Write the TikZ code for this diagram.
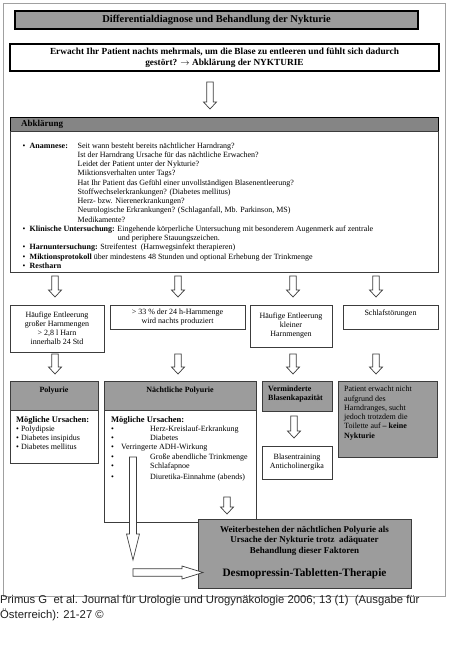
\documentclass[tikz,border=0pt]{standalone}
\usepackage{fontspec}
\setmainfont{Liberation Serif}
\newfontfamily\capfont{Liberation Sans}
\usetikzlibrary{calc}
\definecolor{boxgray}{HTML}{9C9C9C}
\definecolor{headgray}{HTML}{858585}
\definecolor{framegray}{HTML}{A0A0A0}
\definecolor{linegray}{HTML}{3C3C3C}
\newcommand\blockdown[5]{%
  \draw[blk] ($(#1)+(-#3,0)$) -- ($(#2)+(-#3,-#5)$) -- ($(#2)+(-#4,-#5)$) -- (#2)
    -- ($(#2)+(#4,-#5)$) -- ($(#2)+(#3,-#5)$) -- ($(#1)+(#3,0)$) -- cycle;}
\newcommand\blockright[5]{%
  \draw[blk] ($(#1)+(0,-#3)$) -- ($(#2)+(-#5,-#3)$) -- ($(#2)+(-#5,-#4)$) -- (#2)
    -- ($(#2)+(-#5,#4)$) -- ($(#2)+(-#5,#3)$) -- ($(#1)+(0,#3)$) -- cycle;}
\newcommand\bul{\makebox[7pt][l]{\textbullet}}
\begin{document}
\begin{tikzpicture}[x=1pt,y=-1pt,
  bx/.style={draw=linegray,line width=0.8pt,anchor=north west,inner sep=0pt,outer sep=0pt},
  hbx/.style={draw=black,line width=1.6pt,anchor=north west,inner sep=0pt,outer sep=0pt},
  tx/.style={inner sep=0pt,font=\fontsize{8}{9}\selectfont},
  txb/.style={inner sep=0pt,font=\fontsize{8}{9}\selectfont\bfseries},
  ab/.style={inner sep=0pt,anchor=base west,font=\fontsize{8}{9}\selectfont},
  blk/.style={draw=linegray,line width=0.7pt,fill=white,line join=miter}]
\path[use as bounding box] (0,0) rectangle (449,661);
\fill[white] (0,0) rectangle (449,661);
\node[bx,draw=framegray,minimum width=442,minimum height=593] (frame) at (3,3) {};
% title
\node[hbx,fill=boxgray,minimum width=403,minimum height=18] (title) at (15,11) {};
\node[inner sep=0pt,font=\fontsize{10.5}{12}\selectfont\bfseries] (titletxt) at (title.center) {Differentialdiagnose und Behandlung der Nykturie};
% question
\node[hbx,fill=white,minimum width=429,minimum height=27] (quest) at (10,44) {};
\node[inner sep=0pt,align=center,font=\fontsize{9.3}{11.3}\selectfont\bfseries] (questtxt) at (224.5,58) {Erwacht Ihr Patient nachts mehrmals, um die Blase zu entleeren und fühlt sich dadurch\\gestört? $\rightarrow$ Abklärung der NYKTURIE};
% Abklaerung
\node[bx,draw=black,fill=headgray,minimum width=428,minimum height=14] (abkhead) at (10,117) {};
\node[bx,fill=white,minimum width=428,minimum height=141] (abkbody) at (10,131) {};
\node[inner sep=0pt,anchor=west,font=\fontsize{9}{10}\selectfont\bfseries] (abktitle) at (21,124) {Abklärung};
\node[ab] (l1) at (22.5,148) {\bul\textbf{Anamnese:}};
\node[ab] (l1b) at (77.5,148) {Seit wann besteht bereits nächtlicher Harndrang?};
\node[ab] (l2) at (77.5,157.27) {Ist der Harndrang Ursache für das nächtliche Erwachen?};
\node[ab] (l3) at (77.5,166.54) {Leidet der Patient unter der Nykturie?};
\node[ab] (l4) at (77.5,175.81) {Miktionsverhalten unter Tags?};
\node[ab] (l5) at (77.5,185.08) {Hat Ihr Patient das Gefühl einer unvollständigen Blasenentleerung?};
\node[ab] (l6) at (77.5,194.35) {Stoffwechselerkrankungen? (Diabetes mellitus)};
\node[ab] (l7) at (77.5,203.62) {Herz- bzw. Nierenerkrankungen?};
\node[ab] (l8) at (77.5,212.89) {Neurologische Erkrankungen? (Schlaganfall, Mb. Parkinson, MS)};
\node[ab] (l9) at (77.5,222.16) {Medikamente?};
\node[ab] (l10) at (22.5,231.43) {\bul\textbf{Klinische Untersuchung:} Eingehende körperliche Untersuchung mit besonderem Augenmerk auf zentrale};
\node[ab] (l11) at (117.7,240.7) {und periphere Stauungszeichen.};
\node[ab] (l12) at (22.5,249.97) {\bul\textbf{Harnuntersuchung:} Streifentest\ \ (Harnwegsinfekt therapieren)};
\node[ab] (l13) at (22.5,259.24) {\bul\textbf{Miktionsprotokoll} über mindestens 48 Stunden und optional Erhebung der Trinkmenge};
\node[ab] (l14) at (22.5,268.5) {\bul\textbf{Restharn}};
% row 2 boxes
\node[bx,minimum width=94,minimum height=47] (bA) at (10,305) {};
\node[tx,align=center] (tA) at (bA.center) {Häufige Entleerung\\großer Harnmengen\\> 2,8 l Harn\\innerhalb 24 Std};
\node[bx,minimum width=135,minimum height=24] (bB) at (110,305) {};
\node[tx,align=center] (tB) at (bB.center) {> 33 \% der 24 h-Harnmenge\\wird nachts produziert};
\node[bx,minimum width=82,minimum height=42] (bC) at (250,305) {};
\node[tx,align=center] (tC) at (bC.center) {Häufige Entleerung\\kleiner\\Harnmengen};
\node[bx,minimum width=95,minimum height=24] (bD) at (343,305) {};
\node[tx,anchor=north] (tD) at ($(bD.north)+(0,4.5)$) {Schlafstörungen};
% row 2 arrows
\coordinate (r1s) at (55,276); \coordinate (r1e) at (55,297);
\coordinate (r2s) at (178,276); \coordinate (r2e) at (178,297);
\coordinate (r3s) at (293,276); \coordinate (r3e) at (293,297);
\coordinate (r4s) at (376,276); \coordinate (r4e) at (376,297);
\blockdown{r1s}{r1e}{3.25}{6.5}{7}
\blockdown{r2s}{r2e}{3.25}{6.5}{7}
\blockdown{r3s}{r3e}{3.25}{6.5}{7}
\blockdown{r4s}{r4e}{3.25}{6.5}{7}
% row 3 arrows
\coordinate (s1s) at (55,354); \coordinate (s1e) at (55,374);
\coordinate (s2s) at (178,354); \coordinate (s2e) at (178,374);
\coordinate (s3s) at (293,354); \coordinate (s3e) at (293,374);
\coordinate (s4s) at (376,354); \coordinate (s4e) at (376,374);
\blockdown{s1s}{s1e}{3.25}{6.5}{7}
\blockdown{s2s}{s2e}{3.25}{6.5}{7}
\blockdown{s3s}{s3e}{3.25}{6.5}{7}
\blockdown{s4s}{s4e}{3.25}{6.5}{7}
% Polyurie
\node[bx,fill=boxgray,minimum width=88,minimum height=29] (polyh) at (10,381) {};
\node[bx,fill=white,minimum width=88,minimum height=53] (polyb) at (10,410) {};
\node[txb,anchor=north] (polyt) at ($(polyh.north)+(0,6)$) {Polyurie};
\node[ab,font=\fontsize{8.5}{9}\selectfont\bfseries] (p0) at (16,422.5) {Mögliche Ursachen:};
\node[ab] (p1) at (16,431.5) {\textbullet\ Polydipsie};
\node[ab] (p2) at (16,440.5) {\textbullet\ Diabetes insipidus};
\node[ab] (p3) at (16,449.5) {\textbullet\ Diabetes mellitus};
% Naechtliche Polyurie
\node[bx,fill=boxgray,minimum width=152,minimum height=29] (nph) at (104,381) {};
\node[bx,fill=white,minimum width=152,minimum height=112] (npb) at (104,410) {};
\node[txb,anchor=north] (npt) at ($(nph.north)+(0,6)$) {Nächtliche Polyurie};
\node[ab,font=\fontsize{8.5}{9}\selectfont\bfseries] (n0) at (111,422.5) {Mögliche Ursachen:};
\node[ab] (nb1) at (111,431.5) {\textbullet};
\node[ab] (n1) at (150,431.5) {Herz-Kreislauf-Erkrankung};
\node[ab] (nb2) at (111,440.5) {\textbullet};
\node[ab] (n2) at (150,440.5) {Diabetes};
\node[ab] (nb3) at (111,449.5) {\textbullet};
\node[ab] (n3) at (121,449.5) {Verringerte ADH-Wirkung};
\node[ab] (nb4) at (111,459) {\textbullet};
\node[ab] (n4) at (150,459) {Große abendliche Trinkmenge};
\node[ab] (nb5) at (111,468) {\textbullet};
\node[ab] (n5) at (150,468) {Schlafapnoe};
\node[ab] (nb6) at (111,479) {\textbullet};
\node[ab] (n6) at (150,479) {Diuretika-Einnahme (abends)};
% Verminderte
\node[bx,fill=boxgray,minimum width=70,minimum height=30] (vb) at (262,381) {};
\node[txb,anchor=north west,align=left] (vt) at ($(vb.north west)+(6,5)$) {Verminderte\\Blasenkapazität};
\coordinate (v1s) at (294,416); \coordinate (v1e) at (294,438);
\blockdown{v1s}{v1e}{3.25}{6.5}{7}
\node[bx,minimum width=70,minimum height=33] (bt) at (262,446) {};
\node[tx,align=center] (btt) at (bt.center) {Blasentraining\\Anticholinergika};
% Patient
\node[bx,fill=boxgray,minimum width=99,minimum height=76] (pat) at (338,381) {};
\node[tx,anchor=north west,align=left,font=\fontsize{8}{9.3}\selectfont] (patt) at ($(pat.north west)+(6,5)$) {Patient erwacht nicht\\aufgrund des\\Harndranges, sucht\\jedoch trotzdem die\\Toilette auf \textbf{– keine}\\\textbf{Nykturie}};
% final box
\node[bx,fill=boxgray,minimum width=213,minimum height=69] (fin) at (198,519) {};
\node[inner sep=0pt,align=center,font=\fontsize{9}{10.5}\selectfont\bfseries] (fint) at (304.5,540.5) {Weiterbestehen der nächtlichen Polyurie als\\Ursache der Nykturie trotz\ \ adäquater\\Behandlung dieser Faktoren};
\node[inner sep=0pt,font=\fontsize{11.3}{13}\selectfont\bfseries] (fint2) at (304.5,574) {Desmopressin-Tabletten-Therapie};
% arrows to final
\coordinate (f1s) at (227,497); \coordinate (f1e) at (227,514);
\blockdown{f1s}{f1e}{3.25}{6.5}{7}
\coordinate (ls) at (133,457); \coordinate (le) at (133,560);
\blockdown{ls}{le}{3.5}{6.5}{26}
\coordinate (hs) at (133,572.5); \coordinate (he) at (203,572.5);
\blockright{hs}{he}{3.8}{6.5}{21}
% arrow top
\coordinate (a0s) at (210,82); \coordinate (a0e) at (210,109);
\blockdown{a0s}{a0e}{3.25}{6.5}{7}
% caption
\node[anchor=base west,inner sep=0pt,text=black!88,font=\capfont\fontsize{11.3}{15}\selectfont] (cap1) at (0,603) {Primus G\ \ et al. Journal für Urologie und Urogynäkologie 2006; 13 (1)\ \ (Ausgabe für};
\node[anchor=base west,inner sep=0pt,text=black!88,font=\capfont\fontsize{11.3}{15}\selectfont] (cap2) at (0,618.5) {Österreich): 21-27 ©};
\end{tikzpicture}
\end{document}
